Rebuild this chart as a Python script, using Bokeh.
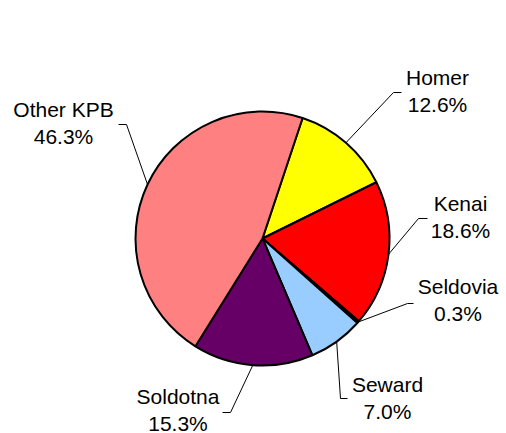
import math
from bokeh.plotting import figure
from bokeh.models import Range1d, ColumnDataSource
from bokeh.core.properties import value
from bokeh.embed import file_html
from bokeh.resources import INLINE

# ---- data ----
names = ["Homer", "Kenai", "Seldovia", "Seward", "Soldotna", "Other KPB"]
shares = [12.6, 18.6, 0.3, 7.0, 15.3, 46.3]
colors = ["#FFFF00", "#FF0000", "#1A1A1A", "#99CCFF", "#660066", "#FF8080"]

# ---- layout (page pixels) ----
W, H = 506, 433
M = 0                      # canvas offset on the page
CX, CY = 262, 238          # pie centre on the page
R = 127                    # pie radius
START = 18.4               # first slice starts this many degrees clockwise from 12 o'clock
LINE_GAP = 26.5
TEXT_SHIFT = -8            # correction for rendered baseline
label_pos = {              # (centre x, baseline of first line)
    "Homer": (437, 85),
    "Kenai": (460, 211),
    "Seldovia": (457.5, 294),
    "Seward": (387, 392),
    "Soldotna": (177.5, 404),
    "Other KPB": (63, 117),
}
leader_pts = {             # elbow, end
    "Homer": ((393, 92), (401, 92)),
    "Kenai": ((418, 218), (427, 218)),
    "Seldovia": ((407, 303), (413, 303)),
    "Seward": ((340, 398), (347, 398)),
    "Soldotna": ((230, 412), (222, 412)),
    "Other KPB": ((126, 124), (118, 124)),
}

def X(px):
    return px - CX

def Y(py):
    return CY - py

p = figure(width=W, height=H, output_backend="svg", toolbar_location=None,
           x_range=Range1d(M - CX, M + W - CX), y_range=Range1d(CY - M - H, CY - M),
           min_border=0)
p.axis.visible = False
p.grid.visible = False
p.outline_line_color = None
p.background_fill_color = "white"
p.border_fill_color = "white"

total = sum(shares)
starts, ends, mids = [], [], []
cum = 0.0
for s in shares:
    a0 = START + cum / total * 360.0
    a1 = a0 + s / total * 360.0
    cum += s
    starts.append(math.radians(90 - a1))
    ends.append(math.radians(90 - a0))
    mids.append(math.radians((a0 + a1) / 2))

src = ColumnDataSource(dict(start=starts, end=ends, color=colors, name=names))
p.wedge(x=0, y=0, radius=R, start_angle="start", end_angle="end", direction="anticlock",
        fill_color="color", line_color="black", line_width=2, source=src)

xs, ys = [], []
for n, m in zip(names, mids):
    (ex, ey), (fx, fy) = leader_pts[n]
    xs.append([R * math.sin(m), X(ex), X(fx)])
    ys.append([R * math.cos(m), Y(ey), Y(fy)])
p.multi_line(xs=xs, ys=ys, line_color="black", line_width=1)

tx, ty1, ty2, t1, t2 = [], [], [], [], []
for n, s in zip(names, shares):
    lx, ly = label_pos[n]
    tx.append(X(lx))
    ty1.append(Y(ly + TEXT_SHIFT))
    ty2.append(Y(ly + LINE_GAP + TEXT_SHIFT))
    t1.append(n)
    t2.append("{:.1f}%".format(s))

for ty, tt in ((ty1, t1), (ty2, t2)):
    p.text(x=tx, y=ty, text=tt, text_align="center", text_baseline="alphabetic",
           text_font=value("Liberation Sans"), text_font_size="21px", text_color="black")

open("out.html", "w").write(file_html(p, INLINE))
